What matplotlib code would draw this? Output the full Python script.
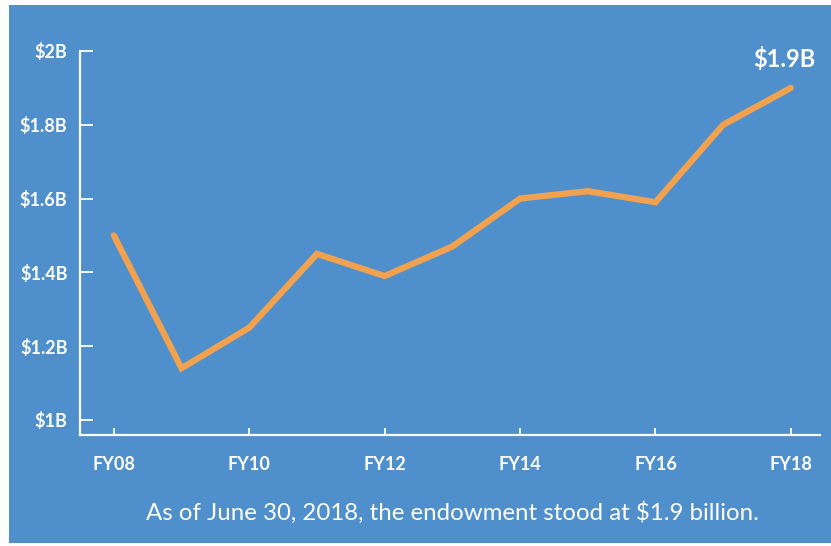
import matplotlib
matplotlib.use('Agg')
import matplotlib.pyplot as plt
from matplotlib.patches import Rectangle

years = [2008, 2009, 2010, 2011, 2012, 2013, 2014, 2015, 2016, 2017, 2018]
endowment = [1.50, 1.14, 1.25, 1.45, 1.39, 1.47, 1.60, 1.62, 1.59, 1.80, 1.90]
xtick_years = [2008, 2010, 2012, 2014, 2016, 2018]
xtick_labels = ["FY08", "FY10", "FY12", "FY14", "FY16", "FY18"]
ytick_vals = [1.0, 1.2, 1.4, 1.6, 1.8, 2.0]
ytick_labels = ["$1B", "$1.2B", "$1.4B", "$1.6B", "$1.8B", "$2B"]
caption = "As of June 30, 2018, the endowment stood at $1.9 billion."

blue = '#4F8FCB'
orange = '#F2A24E'
plt.rcParams['font.family'] = ['Lato', 'DejaVu Sans']

fig = plt.figure(figsize=(8.31, 5.46), dpi=100)
fig.patch.set_facecolor('white')
fig.patches.append(Rectangle((9 / 831, 1 - 543 / 546), 822 / 831, 538 / 546,
                             transform=fig.transFigure, facecolor=blue,
                             edgecolor='none', zorder=-10))

ax = fig.add_axes([80 / 831, 1 - 435 / 546, 740 / 831, 384 / 546])
ax.set_zorder(5)
ax.set_facecolor('none')
ax.plot(years, endowment, color=orange, lw=4.5, solid_capstyle='round',
        solid_joinstyle='miter', clip_on=False)

ax.set_xlim(2007.5, 2018.43)
ax.set_ylim(0.959, 2.0)
ax.set_xticks(xtick_years)
ax.set_xticklabels(xtick_labels)
ax.set_yticks(ytick_vals)
ax.set_yticklabels(ytick_labels)

for s in ['top', 'right']:
    ax.spines[s].set_visible(False)
for s in ['left', 'bottom']:
    ax.spines[s].set_color('white')
    ax.spines[s].set_linewidth(1.6)

ax.tick_params(axis='y', direction='in', length=9.5, width=1.3, color='white',
               labelcolor='white', labelsize=13, pad=9)
ax.tick_params(axis='x', direction='in', length=5, width=1.3, color='white',
               labelcolor='white', labelsize=13, pad=15)
for lab in ax.get_xticklabels() + ax.get_yticklabels():
    lab.set_fontweight('bold')

ax.annotate("$1.9B", xy=(years[-1], endowment[-1]), xytext=(-5, 12),
            textcoords='offset points', ha='center', va='bottom',
            color='white', fontsize=17, fontweight='bold')

fig.text(452 / 831, 1 - 513 / 546, caption, ha='center', va='center',
         color='white', fontsize=17.3, zorder=6)

plt.savefig('out.png', dpi=100)
